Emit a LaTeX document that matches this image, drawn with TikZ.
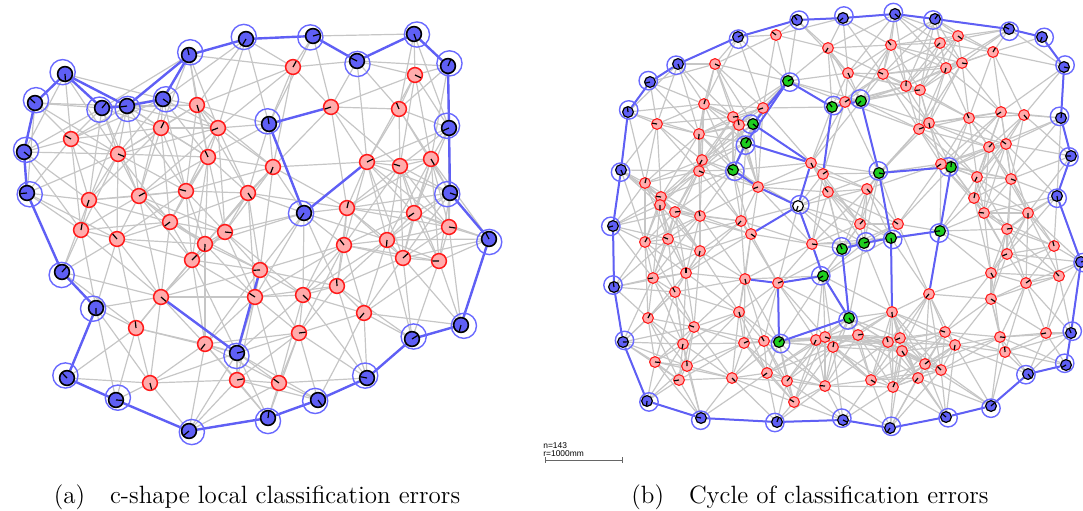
\documentclass[tikz,border=0pt]{standalone}
\usepackage{fontspec}
\newfontfamily\barfont{Liberation Sans}
\usetikzlibrary{positioning}
\definecolor{nodeblue}{RGB}{95,95,245}
\definecolor{haloblue}{RGB}{105,105,255}
\definecolor{strokered}{RGB}{255,25,25}
\definecolor{fillred}{RGB}{255,172,172}
\definecolor{fillgreen}{RGB}{30,205,30}
\definecolor{edgegray}{RGB}{198,198,198}
\pgfdeclarelayer{edges}
\pgfsetlayers{edges,main}
\tikzset{
  lb/.style={circle, draw=black, fill=nodeblue, line width=0.8pt, minimum size=7.4pt, inner sep=0pt},
  lr/.style={circle, draw=strokered, fill=fillred, line width=0.75pt, minimum size=7.4pt, inner sep=0pt},
  rb/.style={circle, draw=black, fill=nodeblue, line width=0.6pt, minimum size=5.4pt, inner sep=0pt},
  rr/.style={circle, draw=strokered, fill=fillred, line width=0.55pt, minimum size=5.4pt, inner sep=0pt},
  rg/.style={circle, draw=black, fill=fillgreen, line width=0.6pt, minimum size=5.4pt, inner sep=0pt},
  rw/.style={circle, draw=black, fill=white, line width=0.6pt, minimum size=5.4pt, inner sep=0pt},
  halo/.style={draw=haloblue, line width=0.7pt},
  tick/.style={draw=black, line width=0.6pt},
  edge/.style={draw=edgegray, line width=0.6pt},
  cycle/.style={draw=nodeblue, line width=1.2pt},
  caption/.style={font=\fontsize{12.5}{14}\selectfont},
  barlabel/.style={font=\fontsize{4.2}{4.6}\barfont, inner sep=0pt, anchor=west}
}
\begin{document}
\begin{tikzpicture}[x=0.5pt, y=-0.5pt]
\useasboundingbox (0,0) rectangle (1083,510);

% (a) left network
\foreach \x/\y/\t [count=\i] in {35/103/b, 65/74/b, 102/108/b, 127/106/b, 163/99/b, 189/55/b, 246/39/b, 313/36/b, 357/61/b, 414/34/b, 448/66/b, 449/128/b, 450/193/b, 489/239/b, 461/325/b, 412/339/b, 367/378/b, 318/400/b, 268/418/b, 189/431/b, 116/400/b, 67/378/b, 96/308/b, 62/272/b, 27/193/b, 24/152/b, 269/124/b, 304/213/b, 237/353/b,
  71/139/r, 197/105/r, 161/128/r, 218/128/r, 118/154/r, 208/157/r, 89/200/r, 139/196/r, 186/191/r, 248/193/r, 81/230/r, 170/222/r, 225/232/r, 117/239/r, 205/244/r, 192/260/r, 260/270/r, 161/297/r, 136/328/r, 205/344/r, 237/380/r, 255/297/r, 150/383/r, 293/67/r, 331/107/r, 415/75/r, 399/109/r, 273/167/r, 367/162/r, 400/166/r, 431/159/r, 347/208/r, 414/213/r, 449/227/r, 344/245/r, 387/240/r, 403/258/r, 439/261/r, 303/295/r, 337/286/r, 364/313/r, 299/333/r, 279/383/r} {
  \expandafter\xdef\csname lx\i\endcsname{\x}
  \expandafter\xdef\csname ly\i\endcsname{\y}
  \xdef\lnum{\i}
  \if\t r\else
    \draw[halo] (\x,\y) ++({mod(\i*71,360)}:1.5pt) circle[radius=6.3pt];
  \fi
  \edef\mk{\noexpand\node[l\t] (l\i) at (\x,\y) {};}\mk
  \draw[tick] (l\i.center) -- ++({mod(\i*137,360)}:3.3pt);
}

% (b) right network
\foreach \x/\y/\t [count=\i] in {628/112/b, 650/82/b, 678/64/b, 738/37/b, 797/20/b, 843/18/b, 895/14/b, 935/19/b, 1009/29/b, 1042/37/b, 1064/67/b, 1061/118/b, 1071/156/b, 1057/196/b, 1081/262/b, 1071/333/b, 1066/365/b, 1028/374/b, 991/406/b, 946/417/b, 890/428/b, 843/420/b, 777/422/b, 701/418/b, 647/401/b, 623/342/b, 614/287/b, 613/226/b, 621/170/b,
  788/81/g, 832/107/g, 861/101/g, 753/124/g, 746/143/g, 733/170/g, 798/206/w, 879/173/g, 951/167/g, 940/231/g, 891/238/g, 864/243/g, 842/249/g, 823/276/g, 849/318/g, 779/342/g,
  776/35/r, 828/48/r, 715/64/r, 704/104/r, 657/124/r, 699/134/r, 733/117/r, 739/125/r, 763/108/r, 848/73/r, 845/102/r, 891/45/r, 940/43/r, 958/36/r, 993/52/r, 883/74/r, 946/68/r, 962/63/r, 906/86/r, 920/90/r, 929/123/r, 919/129/r, 969/118/r, 1001/112/r, 1024/115/r, 989/147/r, 1006/144/r,
  702/160/r, 699/171/r, 645/183/r, 661/197/r, 660/205/r, 675/212/r, 700/216/r, 758/187/r, 811/163/r, 823/174/r, 828/192/r, 741/221/r, 751/234/r, 645/242/r, 668/239/r, 700/251/r, 812/244/r, 686/273/r, 653/278/r, 745/279/r, 778/283/r, 675/292/r,
  941/164/r, 867/189/r, 860/224/r, 898/224/r, 977/177/r, 1011/179/r, 974/198/r, 984/213/r, 1028/213/r, 1007/229/r, 1054/246/r, 1007/254/r, 991/273/r, 1026/283/r, 1059/276/r, 929/294/r, 991/299/r,
  648/318/r, 694/327/r, 683/344/r, 655/362/r, 687/366/r, 679/380/r, 739/312/r, 744/343/r, 764/341/r, 767/373/r, 732/378/r, 787/381/r, 794/402/r, 816/340/r, 825/337/r, 833/347/r, 825/386/r,
  892/312/r, 858/335/r, 888/342/r, 900/338/r, 902/351/r, 925/364/r, 941/370/r, 918/378/r, 871/380/r, 893/387/r, 945/332/r, 955/345/r, 1000/337/r, 1005/352/r, 1046/333/r} {
  \expandafter\xdef\csname rx\i\endcsname{\x}
  \expandafter\xdef\csname ry\i\endcsname{\y}
  \xdef\rnum{\i}
  \if\t r\else
    \draw[halo] (\x,\y) ++({mod(\i*71,360)}:1.1pt) circle[radius=4.6pt];
  \fi
  \edef\mk{\noexpand\node[r\t] (r\i) at (\x,\y) {};}\mk
  \draw[tick] (r\i.center) -- ++({mod(\i*97,360)}:2.4pt);
}

\begin{pgfonlayer}{edges}
% radio links: every pair within range
\foreach \i in {1,...,\lnum} {
  \foreach \j in {\i,...,\lnum} {
    \ifnum\j>\i
      \edef\dx{\csname lx\i\endcsname-\csname lx\j\endcsname}
      \edef\dy{\csname ly\i\endcsname-\csname ly\j\endcsname}
      \pgfmathtruncatemacro\near{((\dx)/10)*((\dx)/10)+((\dy)/10)*((\dy)/10)<110.25}
      \ifnum\near=1 \draw[edge] (l\i) -- (l\j); \fi
    \fi
  }
}
\foreach \i in {1,...,\rnum} {
  \foreach \j in {\i,...,\rnum} {
    \ifnum\j>\i
      \edef\dx{\csname rx\i\endcsname-\csname rx\j\endcsname}
      \edef\dy{\csname ry\i\endcsname-\csname ry\j\endcsname}
      \pgfmathtruncatemacro\near{((\dx)/10)*((\dx)/10)+((\dy)/10)*((\dy)/10)<64}
      \ifnum\near=1 \draw[edge] (r\i) -- (r\j); \fi
    \fi
  }
}
% boundary and error links
\foreach \i [remember=\i as \k (initially 26)] in {1,...,26}
  \draw[cycle] (l\k) -- (l\i);
\foreach \a/\b in {2/4, 4/6, 27/54, 27/28, 28/58, 47/29, 29/46}
  \draw[cycle] (l\a) -- (l\b);
\foreach \i [remember=\i as \k (initially 29)] in {1,...,29}
  \draw[cycle, line width=1pt] (r\k) -- (r\i);
\foreach \a/\b in {30/33, 30/34, 30/31, 31/32, 33/81, 34/81, 31/82, 34/35, 35/80, 80/36, 81/36, 36/85, 36/89, 89/43, 92/93, 93/43, 93/45, 45/44, 43/44, 42/44, 32/37, 37/38, 37/40, 38/39, 39/40, 40/41, 41/42, 40/129, 39/110}
  \draw[cycle, line width=1pt] (r\a) -- (r\b);
\end{pgfonlayer}

% scale bar
\node[barlabel] (nlab) at (543,446) {n=143};
\node[barlabel] (rlab) at (543,454) {r=1000mm};
\coordinate (barl) at (545,460);
\coordinate (barr) at (622,460);
\draw[gray!80!black, line width=0.4pt] (barl) -- (barr);
\draw[gray!80!black, line width=0.4pt] (barl) ++(0,-3) -- ++(0,6);
\draw[gray!80!black, line width=0.4pt] (barr) ++(0,-3) -- ++(0,6);

% captions
\node[caption] (capa) at (257,497) {(a)\hspace{1em}c-shape local classification errors};
\node[caption] (capb) at (810,497) {(b)\hspace{1em}Cycle of classification errors};
\end{tikzpicture}
\end{document}
